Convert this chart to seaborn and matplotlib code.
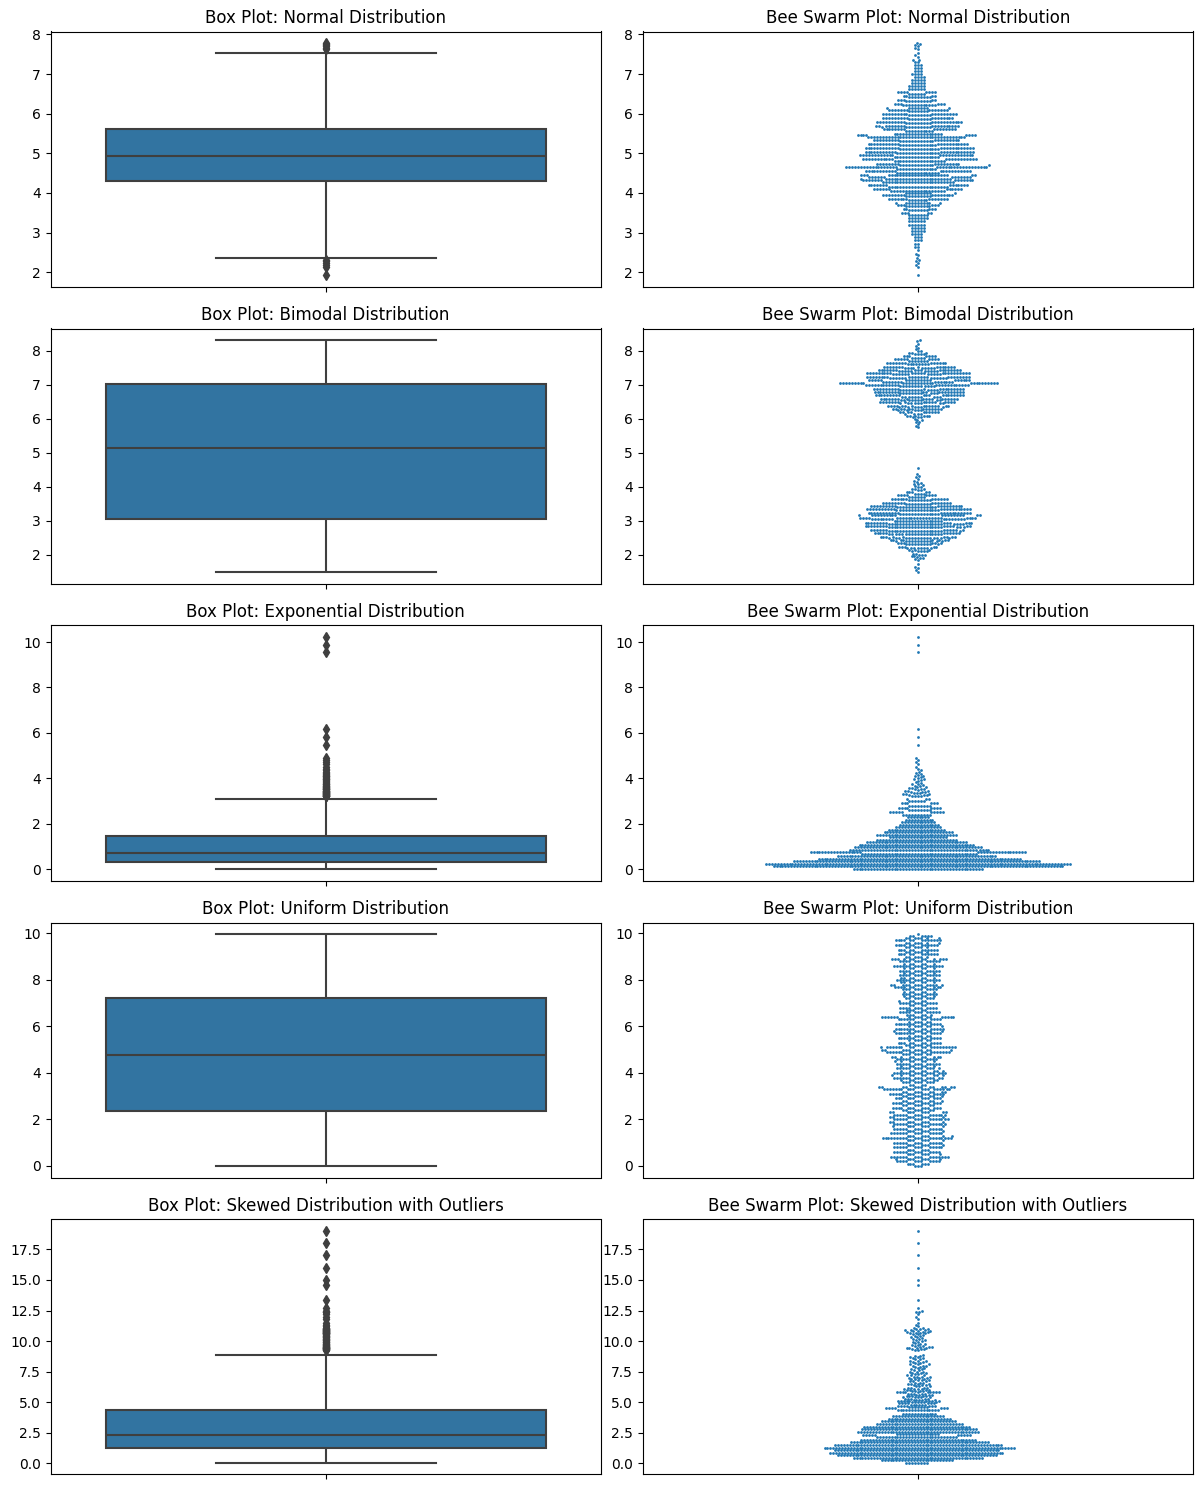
import numpy as np
import pandas as pd
import matplotlib
matplotlib.use("Agg")
import matplotlib.pyplot as plt
import seaborn as sns

# Values: single tail points, plus value levels with how many points sit at each level.
normal_single = [1.93, 2.13, 2.19, 2.24, 2.28, 2.31, 2.36, 2.42, 2.47, 2.55,
                 7.47, 7.52, 7.62, 7.65, 7.70, 7.72, 7.75, 7.78]
normal_levels = [2.64, 2.72, 2.80, 2.88, 2.96, 3.04, 3.12, 3.20, 3.28, 3.36, 3.44,
                 3.50, 3.56, 3.59, 3.66, 3.70, 3.74, 3.81, 3.84, 3.91, 3.95, 3.99, 4.06, 4.09, 4.16, 4.19, 4.27,
                 4.32, 4.36, 4.41, 4.44, 4.51, 4.55, 4.60, 4.66, 4.71, 4.74, 4.81, 4.85, 4.91,
                 4.96, 5.01, 5.04, 5.11, 5.14, 5.21, 5.24, 5.31, 5.34, 5.41, 5.46, 5.49, 5.56, 5.61,
                 5.66, 5.70, 5.76, 5.79, 5.86, 5.90, 5.96, 5.99, 6.06, 6.10, 6.14, 6.21, 6.24, 6.31, 6.35, 6.41, 6.44, 6.50,
                 6.55, 6.62, 6.70, 6.78, 6.85, 6.92, 7.00, 7.08, 7.15, 7.22, 7.30, 7.36, 7.44]
normal_counts = [2, 2, 3, 3, 4, 5, 5, 6, 6, 7, 7,
                 5, 7, 5, 9, 6, 11, 7, 14, 9, 16, 10, 19, 12, 21, 14, 25,
                 14, 24, 13, 26, 15, 22, 14, 36, 13, 17, 18, 22, 16,
                 24, 15, 23, 14, 24, 13, 22, 12, 18, 34, 8, 17, 10, 16,
                 10, 19, 9, 21, 8, 17, 8, 18, 7, 14, 9, 12, 6, 9, 5, 8, 4, 6,
                 8, 6, 6, 5, 5, 4, 4, 3, 3, 3, 2, 2, 1]

bimodal_single = [1.50, 1.56, 1.62, 1.65, 1.72, 1.84, 1.87, 1.90, 1.92, 1.94,
                  4.03, 4.06, 4.08, 4.10, 4.13, 4.15, 4.18, 4.22, 4.28, 4.32, 4.38, 4.55,
                  5.75, 5.80, 5.85, 5.90, 5.92, 5.96, 5.98, 6.00,
                  8.10, 8.15, 8.20, 8.28, 8.32]
bimodal_levels = [1.96, 2.01, 2.04, 2.11, 2.14, 2.21, 2.24, 2.31, 2.34, 2.41, 2.44,
                  2.51, 2.54, 2.61, 2.64, 2.71, 2.74, 2.81, 2.84, 2.91, 2.94, 3.01,
                  3.06, 3.09, 3.16, 3.20, 3.24, 3.31, 3.34, 3.41, 3.44, 3.50,
                  3.54, 3.61, 3.64, 3.71, 3.75, 3.80, 3.84, 3.91, 3.94, 4.00,
                  6.06, 6.09, 6.16, 6.19, 6.26, 6.30, 6.36, 6.39, 6.46, 6.49,
                  6.56, 6.60, 6.66, 6.69, 6.76, 6.80, 6.86, 6.89, 6.96, 7.01,
                  7.05, 7.10, 7.14, 7.21, 7.24, 7.31, 7.34, 7.41, 7.44, 7.51,
                  7.54, 7.61, 7.64, 7.71, 7.75, 7.80, 7.84, 7.91, 7.94, 8.00, 8.05]
bimodal_counts = [2, 3, 2, 5, 3, 8, 5, 10, 6, 12, 8,
                  16, 9, 18, 11, 20, 12, 22, 14, 23, 14, 17,
                  16, 24, 20, 14, 22, 15, 21, 14, 18, 9,
                  15, 8, 12, 6, 8, 4, 5, 2, 3, 2,
                  3, 6, 4, 10, 5, 13, 6, 15, 8, 17,
                  9, 18, 10, 20, 11, 20, 12, 19, 12, 24,
                  30, 14, 20, 12, 23, 11, 24, 10, 18, 9,
                  15, 8, 13, 7, 9, 5, 7, 4, 3, 2, 1]

expon_single = [3.50, 3.52, 3.53, 3.55, 3.57, 3.58, 3.60, 3.62, 3.65, 3.68, 3.70, 3.73, 3.76, 3.80,
                3.84, 3.88, 3.92, 3.95, 3.98, 4.02, 4.05, 4.08, 4.12, 4.16, 4.20, 4.25, 4.30, 4.35,
                4.42, 4.50, 4.62, 4.72, 4.82, 4.90, 5.45, 5.80, 6.18, 9.55, 9.85, 10.22]
expon_levels = [0.01, 0.12, 0.23,
                0.34, 0.45, 0.56, 0.67,
                0.75, 0.86, 0.97, 1.08, 1.19, 1.30, 1.41,
                1.52, 1.63, 1.74, 1.85, 1.96, 2.07, 2.18, 2.29,
                2.40, 2.50, 2.60, 2.70, 2.80, 2.90, 3.00, 3.07,
                3.24, 3.26, 3.30, 3.35, 3.40, 3.45]
expon_counts = [45, 100, 105,
                85, 70, 55, 40,
                35, 48, 44, 40, 35, 28, 20,
                28, 24, 20, 16, 14, 12, 10, 8,
                10, 10, 8, 8, 8, 6, 6, 3,
                4, 3, 3, 3, 3, 3]

uniform_levels = [0.0, 0.1, 0.2, 0.3, 0.4, 0.5, 0.6, 0.7, 0.8, 0.9, 1.0, 1.1, 1.2, 1.3, 1.4, 1.5, 1.6, 1.7, 1.8, 1.9,
                  2.0, 2.1, 2.2, 2.3, 2.4, 2.5, 2.6, 2.7, 2.8, 2.9, 3.0, 3.1, 3.2, 3.3, 3.4, 3.5, 3.6, 3.7, 3.8, 3.9,
                  4.0, 4.1, 4.2, 4.3, 4.4, 4.5, 4.6, 4.7, 4.8, 4.9, 5.0, 5.1, 5.2, 5.3, 5.4, 5.5, 5.6, 5.7, 5.8, 5.9,
                  6.0, 6.1, 6.2, 6.3, 6.4, 6.5, 6.6, 6.7, 6.8, 6.9, 7.0, 7.1, 7.2, 7.3, 7.4, 7.5, 7.6, 7.7, 7.8, 7.9,
                  8.0, 8.1, 8.2, 8.3, 8.4, 8.5, 8.6, 8.7, 8.8, 8.9, 9.0, 9.1, 9.2, 9.3, 9.4, 9.5, 9.6, 9.7, 9.8, 9.9, 9.97]
uniform_counts = [3, 6, 11, 8, 16, 7, 12, 6, 13, 7, 13, 7, 20, 8, 14, 7, 13, 8, 14, 9, 15, 9, 14, 10,
                  7, 13, 7, 13, 8, 12, 8, 15, 9, 19, 13, 4, 9, 7, 14, 9, 15, 8, 12, 6, 13, 7, 12, 10,
                  8, 17, 11, 20, 7, 11, 6, 12, 6, 13, 8, 14, 7, 13, 6, 12, 17, 6, 12, 5, 11, 4, 11, 5, 8,
                  6, 10, 6, 10, 11, 13, 7, 13, 7, 12, 6, 12, 6, 15, 6, 12, 12, 6, 11, 6, 11, 6, 12, 7, 13, 7, 6, 1]

skew_single = [8.90, 9.25, 9.30, 9.32, 9.35, 9.38, 9.40, 9.42, 9.45, 9.47, 9.50, 9.52, 9.55, 9.58, 9.60, 9.65,
               9.70, 9.75, 9.80, 9.85, 9.90, 9.95, 10.00, 10.05, 10.10, 10.15, 10.20, 10.25, 10.30, 10.35,
               10.40, 10.45, 10.50, 10.55, 10.60, 10.62, 10.65, 10.68, 10.70, 10.72, 10.75, 10.78, 10.80,
               10.82, 10.85, 10.88, 10.90, 10.92, 10.95, 10.98, 11.00, 11.05, 11.10, 11.20, 11.35, 11.50,
               11.80, 12.00, 12.20, 12.35, 12.40, 12.45, 12.70, 13.40, 14.60, 15.00, 16.00, 17.05, 18.00, 19.00]
skew_levels = [0.03, 0.24, 0.45, 0.66, 0.87, 1.08,
               1.29, 1.50, 1.71, 1.92, 2.13, 2.29,
               2.37, 2.58, 2.79, 3.00, 3.21, 3.42, 3.63, 3.84, 4.05, 4.33,
               4.4, 4.5, 4.6, 4.7, 4.8, 4.9, 5.0, 5.1, 5.2, 5.3, 5.4, 5.5, 5.6, 5.7, 5.8, 5.9, 6.0, 6.1, 6.2, 6.3,
               6.4, 6.5, 6.6, 6.7, 6.8, 6.9, 7.0, 7.1, 7.2, 7.3, 7.4, 7.5, 7.6, 7.7, 7.8, 7.9, 8.0, 8.1, 8.2, 8.3,
               8.4, 8.5, 8.6, 8.7, 8.8]
skew_counts = [8, 25, 45, 55, 60, 57,
               66, 58, 48, 40, 28, 10,
               15, 42, 40, 37, 30, 26, 22, 18, 12, 8,
               7, 7, 7, 7, 6, 7, 6, 9, 5, 5, 5, 5, 4, 5, 10, 4, 4, 4, 4, 3,
               3, 4, 3, 3, 3, 3, 3, 4, 3, 2, 3, 3, 2, 2, 2, 2, 3, 3, 2, 2,
               3, 2, 2, 2, 2]

names = ["Normal Distribution", "Bimodal Distribution", "Exponential Distribution",
         "Uniform Distribution", "Skewed Distribution with Outliers"]


def expand(single, levels, counts):
    return np.sort(np.concatenate([np.array(single, dtype=float), np.repeat(levels, counts)]))


series = [expand(normal_single, normal_levels, normal_counts),
          expand(bimodal_single, bimodal_levels, bimodal_counts),
          expand(expon_single, expon_levels, expon_counts),
          expand([], uniform_levels, uniform_counts),
          expand(skew_single, skew_levels, skew_counts)]

W, H = 1203, 1489
fig, axes = plt.subplots(5, 2, figsize=(W / 100, H / 100), dpi=100)
fig.subplots_adjust(left=50.5 / W, right=1193 / W, top=1 - 31.5 / H, bottom=1 - 1474.5 / H,
                    wspace=42 / 550.25, hspace=42 / 255)

for row, (name, vals) in enumerate(zip(names, series)):
    df = pd.DataFrame({"value": vals})
    sns.boxplot(data=df, y="value", ax=axes[row, 0], color="#1f77b4", linecolor="#3f3f3f",
                linewidth=1.5, fliersize=5,
                flierprops={"marker": "d", "markerfacecolor": "#3f3f3f", "markeredgecolor": "#3f3f3f"})
    axes[row, 0].set_title(f"Box Plot: {name}")
    sns.swarmplot(data=df, y="value", ax=axes[row, 1], size=2, color="#1f77b4")
    axes[row, 1].set_title(f"Bee Swarm Plot: {name}")
    for ax in axes[row]:
        ax.set_xlabel("")
        ax.set_ylabel("")

fig.savefig("out.png", dpi=100)
